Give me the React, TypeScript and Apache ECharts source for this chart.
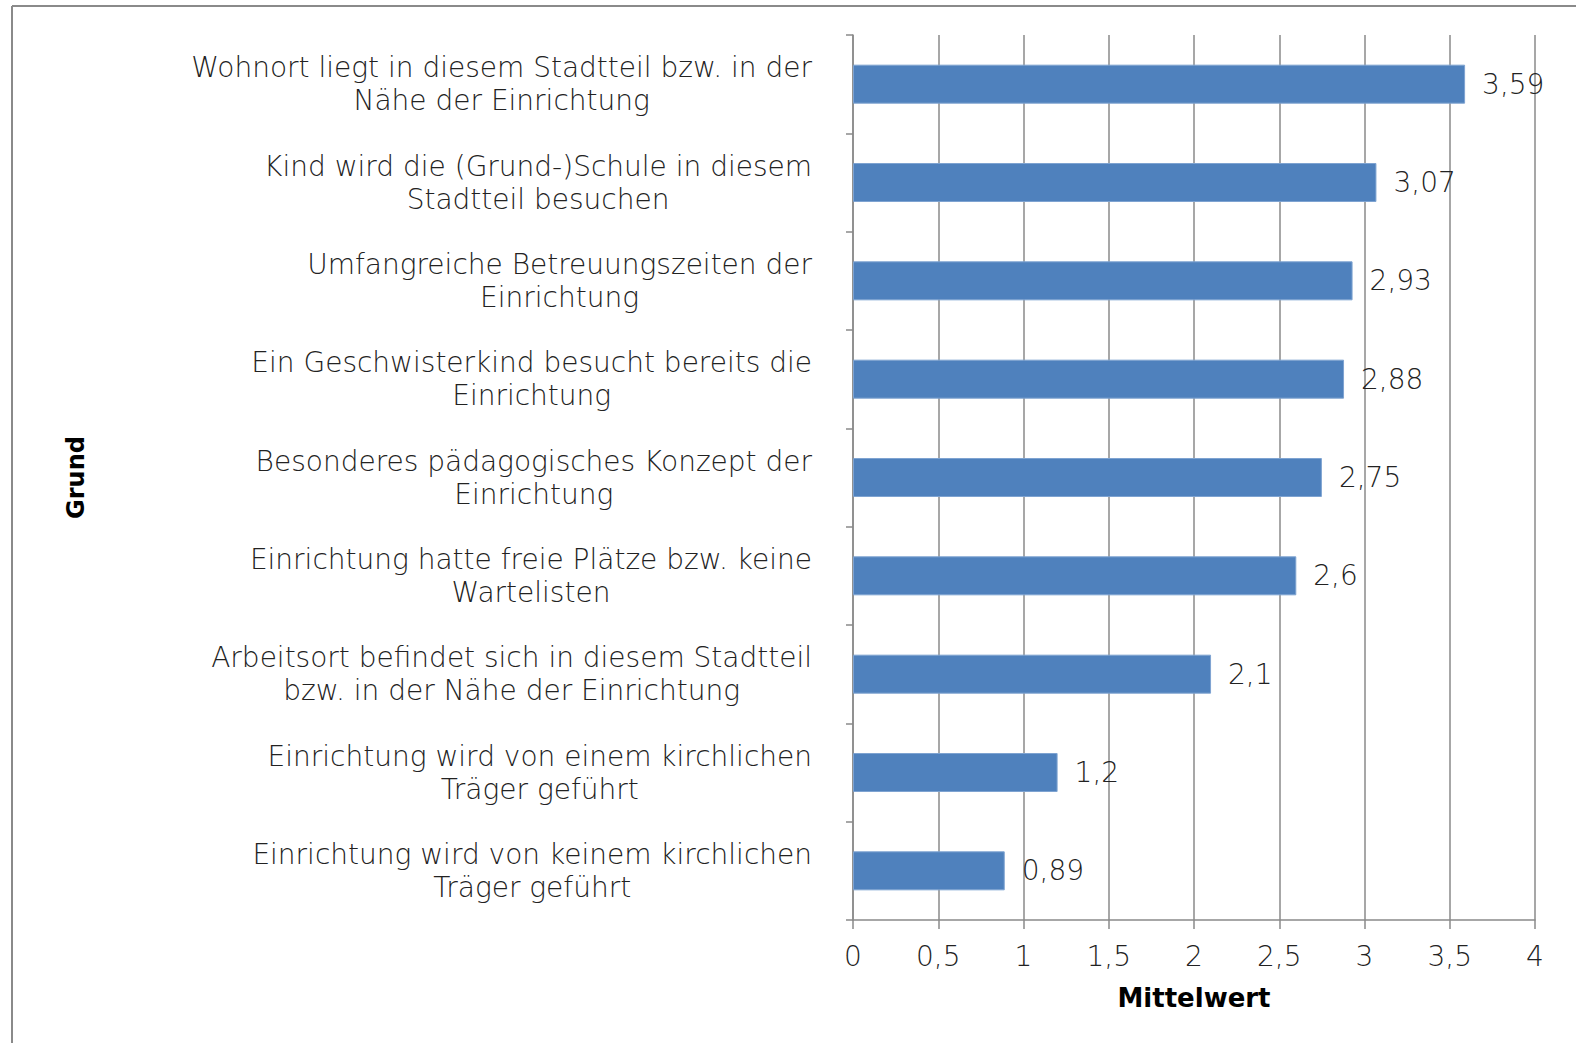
import React, { useEffect, useRef } from "react";
import * as echarts from "echarts";

const categories: string[] = [
  "Wohnort liegt in diesem Stadtteil bzw. in der\nNähe der Einrichtung",
  "Kind wird die (Grund-)Schule in diesem\nStadtteil besuchen",
  "Umfangreiche Betreuungszeiten der\nEinrichtung",
  "Ein Geschwisterkind besucht bereits die\nEinrichtung",
  "Besonderes pädagogisches Konzept der\nEinrichtung",
  "Einrichtung hatte freie Plätze bzw. keine\nWartelisten",
  "Arbeitsort befindet sich in diesem Stadtteil\nbzw. in der Nähe der Einrichtung",
  "Einrichtung wird von einem kirchlichen\nTräger geführt",
  "Einrichtung wird von keinem kirchlichen\nTräger geführt",
];
const values: number[] = [3.59, 3.07, 2.93, 2.88, 2.75, 2.6, 2.1, 1.2, 0.89];
const xAxisName = "Mittelwert";
const yAxisName = "Grund";

const FONT = "'DejaVu Sans', sans-serif";
const fmt = (v: number) => String(v).replace(".", ",");

export default function App() {
  const ref = useRef<HTMLDivElement>(null);
  useEffect(() => {
    if (!ref.current) return;
    const chart = echarts.init(ref.current, undefined, { renderer: "svg" });
    chart.setOption({
      animation: false,
      backgroundColor: "#ffffff",
      graphic: [
        { type: "line", shape: { x1: 12, y1: 6, x2: 12, y2: 1043 }, style: { stroke: "#8a8a8a", lineWidth: 2 } },
        { type: "line", shape: { x1: 12, y1: 6, x2: 1576, y2: 6 }, style: { stroke: "#8a8a8a", lineWidth: 2 } },
      ],
      grid: { left: 853, right: 41, top: 35, bottom: 123, containLabel: false },
      xAxis: {
        type: "value",
        min: 0,
        max: 4,
        interval: 0.5,
        name: xAxisName,
        nameLocation: "middle",
        nameGap: 65,
        nameTextStyle: { fontFamily: FONT, fontWeight: "bold", fontSize: 26, color: "#000" },
        axisLine: { show: true, lineStyle: { color: "#8a8a8a", width: 1.5 } },
        axisTick: { show: true, length: 9, lineStyle: { color: "#8a8a8a", width: 1.5 } },
        axisLabel: { formatter: (v: number) => fmt(v), margin: 22, fontFamily: FONT, fontSize: 28, fontWeight: 200, color: "#222" },
        splitLine: { show: true, lineStyle: { color: "#8a8a8a", width: 1.5 } },
      },
      yAxis: {
        type: "category",
        data: categories,
        inverse: true,
        name: yAxisName,
        nameLocation: "middle",
        nameGap: 765,
        nameRotate: 90,
        nameTextStyle: { fontFamily: FONT, fontWeight: "bold", fontSize: 24, color: "#000" },
        axisLine: { show: true, lineStyle: { color: "#8a8a8a", width: 1.5 } },
        axisTick: { show: true, length: 7, lineStyle: { color: "#8a8a8a", width: 1.5 } },
        axisLabel: {
          margin: 41,
          formatter: (v: string) => v.split("\n").map((l) => `{a|${l}}`).join("\n"),
          rich: {
            a: { align: "center", fontFamily: FONT, fontSize: 28, fontWeight: 200, color: "#222", lineHeight: 33 },
          },
        },
      },
      series: [
        {
          type: "bar",
          data: values,
          barWidth: 39,
          itemStyle: { color: "#4F81BD", borderColor: "#7ea3d1", borderWidth: 1 },
          label: {
            show: true,
            position: "right",
            distance: 17,
            formatter: (p: any) => fmt(p.value),
            fontFamily: FONT,
            fontSize: 28,
            fontWeight: 200,
            color: "#222",
          },
        },
      ],
    });
    return () => chart.dispose();
  }, []);
  return <div ref={ref} style={{ position: "fixed", left: 0, top: 0, width: 1576, height: 1043 }} />;
}
